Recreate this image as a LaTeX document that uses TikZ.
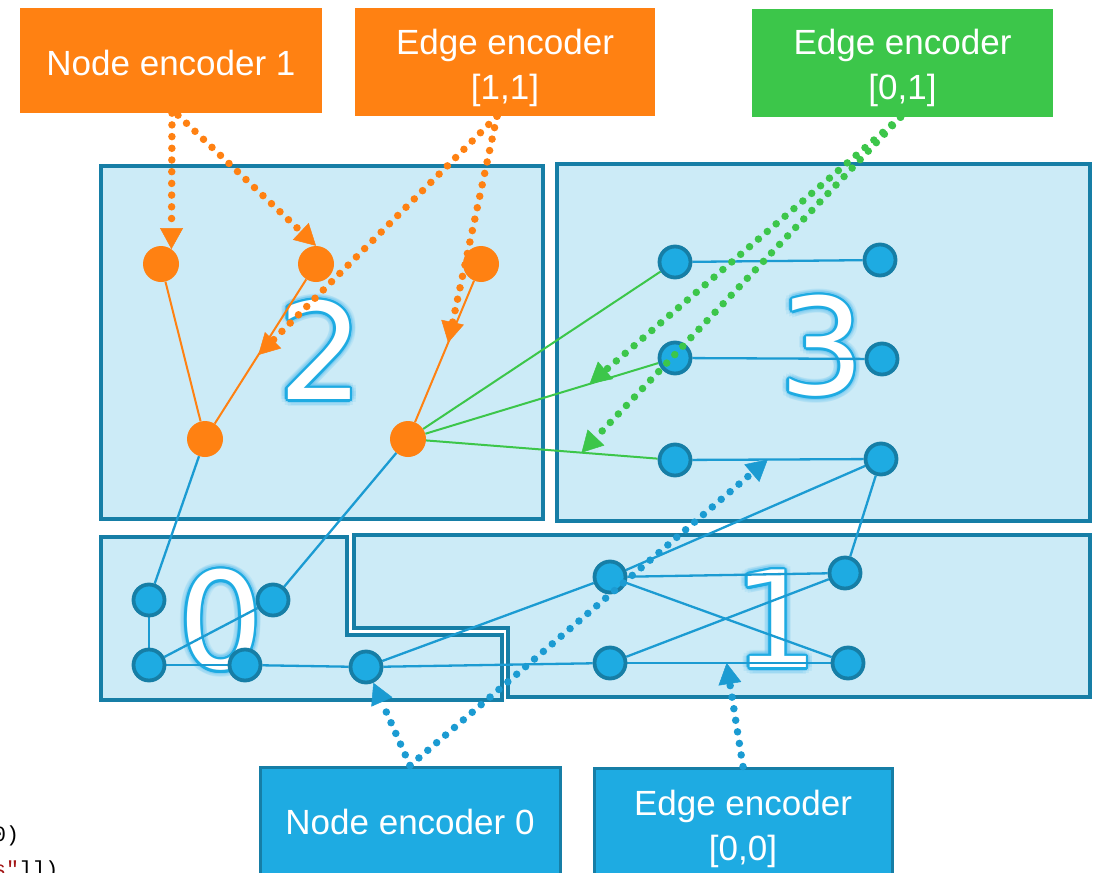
\documentclass[tikz,border=0pt]{standalone}
\usepackage{fontspec}
\setmainfont{Liberation Sans}
\newfontfamily\digitfont{DejaVu Sans}
\newfontfamily\codefont{Liberation Mono}
\usetikzlibrary{arrows.meta,calc}

\definecolor{encorange}{HTML}{FF8112}
\definecolor{encgreen}{HTML}{3CC64A}
\definecolor{nodeblue}{HTML}{1EABE2}
\definecolor{rimblue}{HTML}{167EA6}
\definecolor{edgeblue}{HTML}{1B9BD2}
\definecolor{regionfill}{HTML}{CCEBF7}
\definecolor{glowblue}{HTML}{6CC6F0}
\definecolor{strred}{HTML}{A31515}

\pgfdeclarelayer{back}
\pgfdeclarelayer{mid}
\pgfsetlayers{back,mid,main}

\tikzset{
  region/.style={fill=regionfill, draw=rimblue, line width=3.5pt, line join=miter},
  orangebox/.style={fill=encorange, inner sep=0pt},
  greenbox/.style={fill=encgreen, inner sep=0pt},
  bluebox/.style={fill=nodeblue, draw=rimblue, line width=3pt, inner sep=0pt},
  boxtext/.style={text=white, font=\fontsize{35pt}{45pt}\selectfont, align=center, inner sep=0pt},
  onode/.style={circle, fill=encorange, minimum size=36pt, inner sep=0pt},
  bnode/.style={circle, fill=nodeblue, draw=rimblue, line width=3.8pt, minimum size=31pt, inner sep=0pt},
  bedge/.style={draw=edgeblue, line width=2.3pt},
  oedge/.style={draw=encorange, line width=2pt},
  gedge/.style={draw=encgreen, line width=2pt},
  dots/.style={line width=7.5pt, line cap=round, dash pattern=on 0pt off 11.7pt,
    -{Triangle[length=21pt,width=23pt,line width=0.5pt]}},
  digitstyle/.style={font=\digitfont\fontsize{134pt}{134pt}\selectfont, inner sep=0pt},
  code/.style={font=\codefont\fontsize{21.7pt}{21.7pt}\selectfont, inner sep=0pt, text=black}
}

% a large white digit with a blue rim and a soft glow
\newcommand\bigdigit[3]{%
  \foreach \ang in {0,30,...,330}
    \node[digitstyle, text=glowblue, opacity=0.18] at ($(#2)+(\ang:6.5)$) {#3};
  \foreach \ang in {15,45,...,345}
    \node[digitstyle, text=glowblue, opacity=0.25] at ($(#2)+(\ang:4)$) {#3};
  \foreach \ang in {0,22.5,...,337.5}
    \node[digitstyle, text=nodeblue] at ($(#2)+(\ang:2.4)$) {#3};
  \node[digitstyle, text=white] (#1) at (#2) {#3};
}

\begin{document}
\begin{tikzpicture}[x=1pt,y=-1pt]
\useasboundingbox (0,0) rectangle (1099,872);

% partition regions and their labels
\begin{pgfonlayer}{back}
  \fill[white] (0,0) rectangle (1099,872);
  \draw[region] (101,166) rectangle (543,519);
  \draw[region] (557,164) rectangle (1090,521);
  \draw[region] (101,537) -- (347,537) -- (347,635) -- (502,635) -- (502,700) -- (101,700) -- cycle;
  \draw[region] (354,535) -- (1090,535) -- (1090,697) -- (508,697) -- (508,628) -- (354,628) -- cycle;
  \bigdigit{d2}{321,350}{2}
  \bigdigit{d3}{822,346}{3}
  \bigdigit{d0}{221,620}{0}
  \bigdigit{d1}{776,619}{1}
\end{pgfonlayer}

% encoder boxes
\node[orangebox, minimum width=302pt, minimum height=105pt] (ne1) at (171,60.5) {};
\node[boxtext] (ne1t) at ([yshift=-2pt]ne1.center) {Node encoder 1};
\node[orangebox, minimum width=300pt, minimum height=108pt] (ee11) at (505,62) {};
\node[boxtext] (ee11t) at ([yshift=-5.5pt]ee11.center) {Edge encoder\\{}[1,1]};
\node[greenbox, minimum width=301pt, minimum height=108pt] (ee01) at (902.5,63) {};
\node[boxtext] (ee01t) at ([yshift=-5pt]ee01.center) {Edge encoder\\{}[0,1]};
\node[bluebox, minimum width=300pt, minimum height=110pt] (ne0) at (410,822) {};
\node[boxtext] (ne0t) at (ne0.center) {Node encoder 0};
\node[bluebox, minimum width=298pt, minimum height=121pt] (ee00) at (743,828.5) {};
\node[boxtext] (ee00t) at (ee00.center) {Edge encoder\\{}[0,0]};

% code fragments at the lower left
\node[code, anchor=base west] (codeA) at (-7,841) {0)};
\node[code, anchor=base west] (codeB) at (-7,876) {\textcolor{strred}{s"}]])};

% graph nodes
\node[onode] (o1) at (161,264) {};
\node[onode] (o2) at (316,264) {};
\node[onode] (o3) at (481,264) {};
\node[onode] (o4) at (205,439) {};
\node[onode] (o5) at (408,439) {};

\node[bnode] (b1) at (675,262) {};
\node[bnode] (b2) at (880,260) {};
\node[bnode] (b3) at (675,358) {};
\node[bnode] (b4) at (882,359) {};
\node[bnode] (b5) at (675,460) {};
\node[bnode] (b6) at (881,459) {};

\node[bnode] (c1) at (610,577) {};
\node[bnode] (c2) at (845,573) {};
\node[bnode] (c3) at (610,663) {};
\node[bnode] (c4) at (848,663) {};

\node[bnode] (a1) at (149,600) {};
\node[bnode] (a2) at (273,600) {};
\node[bnode] (a3) at (149,665) {};
\node[bnode] (a4) at (245,665) {};
\node[bnode] (a5) at (366,667) {};

% graph edges
\begin{pgfonlayer}{mid}
  \draw[oedge] (o1) -- (o4);
  \draw[oedge] (o2) -- (o4);
  \draw[oedge] (o3) -- (o5);
  \draw[gedge] (o5) -- (b1);
  \draw[gedge] (o5) -- (b3);
  \draw[gedge] (o5) -- (b5);
  \draw[bedge] (b1) -- (b2);
  \draw[bedge] (b3) -- (b4);
  \draw[bedge] (b5) -- (b6);
  \draw[bedge] (a1) -- (a3);
  \draw[bedge] (a3) -- (a4);
  \draw[bedge] (a3) -- (a2);
  \draw[bedge] (a1) -- (o4);
  \draw[bedge] (a2) -- (o5);
  \draw[bedge] (a4) -- (a5);
  \draw[bedge] (a5) -- (c1);
  \draw[bedge] (a5) -- (c3);
  \draw[bedge] (c1) -- (c2);
  \draw[bedge] (c1) -- (c4);
  \draw[bedge] (c3) -- (c2);
  \draw[bedge] (c3) -- (c4);
  \draw[bedge] (c1) -- (b6);
  \draw[bedge] (c2) -- (b6);
\end{pgfonlayer}

% encoder outputs
\draw[dots, encorange] ([xshift=1pt]ne1.south) -- (o1.55);
\draw[dots, encorange] ([xshift=7pt,yshift=-2pt]ne1.south) -- (o2.north);
\draw[dots, encorange] ([xshift=-8pt]ee11.south) -- ($(o2)!0.52!(o4)$);
\draw[dots, encorange] ([xshift=-8pt]ee11.south) -- ($(o3)!0.45!(o5)$);
\draw[dots, encgreen] ([xshift=-2pt]ee01.south) -- ($(o5)!0.68!(b3)$);
\draw[dots, encgreen] ([xshift=-2pt]ee01.south) -- ($(o5)!0.65!(b5)$);
\draw[dots, edgeblue] (ne0.north) -- (a5.-65);
\draw[dots, edgeblue] (ne0.north) -- ($(b5)!0.45!(b6)$);
\draw[dots, edgeblue] (ee00.north) -- ($(c3)!0.49!(c4)$);
\end{tikzpicture}
\end{document}
